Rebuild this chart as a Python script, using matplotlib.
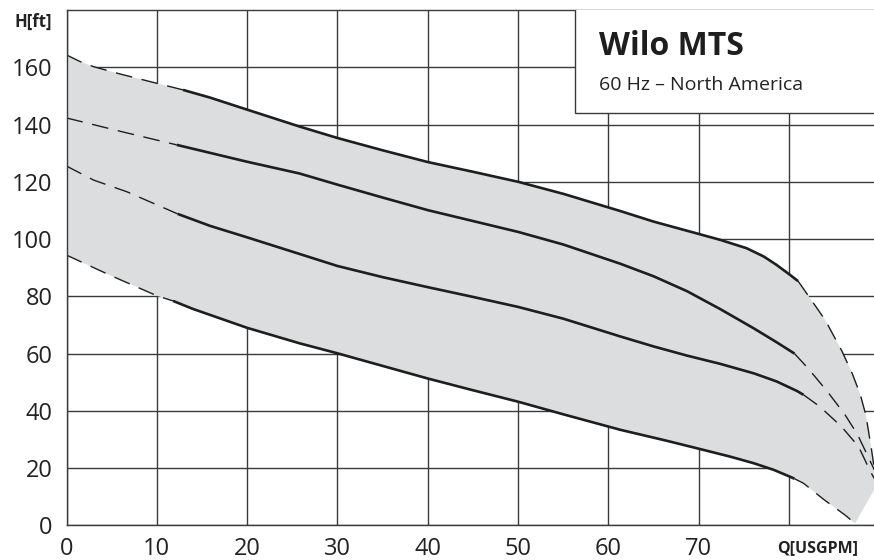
import matplotlib.pyplot as plt
from matplotlib.patches import Rectangle

plt.rcParams['font.family'] = ['Open Sans', 'DejaVu Sans']

# flow [USGPM] / head [ft]
# each curve: dashed start, solid middle, dashed end
top_start_x = [0, 1.5, 3, 6, 10, 12.9]
top_start_y = [164.3, 162.0, 160.2, 157.6, 154.4, 152.1]
top_mid_x = [12.9, 15.9, 20, 25.8, 30, 35, 40, 45, 50, 55, 61.3, 65, 70.1, 72.4,
             75.3, 77.2, 78.6, 80.1, 81.0]
top_mid_y = [152.1, 149.4, 145.2, 139.3, 135.3, 131.0, 126.9, 123.5, 120.0, 115.8,
             109.8, 106.1, 101.7, 99.7, 96.8, 93.9, 91.0, 87.5, 85.3]
top_end_x = [81.0, 82.2, 84.0, 85.8, 87.0, 87.9, 88.5, 89.1, 89.7]
top_end_y = [85.3, 79.9, 71.7, 61.2, 53.0, 45.5, 38.5, 27.0, 14.0]

up_start_x = [0, 6, 12.2]
up_start_y = [142.3, 137.6, 132.9]
up_mid_x = [12.2, 20, 25.8, 30, 35, 40, 45, 50, 55, 61.3, 65, 68.7, 72.4, 76.1,
            78.6, 80.6]
up_mid_y = [132.9, 127.0, 122.9, 119.0, 114.5, 110.1, 106.3, 102.5, 98.1, 91.4,
            87.0, 81.8, 75.5, 68.8, 64.0, 60.0]
up_end_x = [80.6, 82.2, 84.3, 86.2, 87.6, 89.0, 89.5]
up_end_y = [60.0, 54.5, 46.5, 38.6, 31.6, 22.3, 19.0]

lo_start_x = [0, 3.0, 6.7, 12.3]
lo_start_y = [125.5, 120.6, 116.5, 108.8]
lo_mid_x = [12.3, 15.9, 20, 25.8, 30, 35, 40, 45, 50, 55, 61.3, 65, 68.7, 72.4,
            76.1, 78.6, 80.9, 81.6]
lo_mid_y = [108.8, 104.6, 100.6, 94.8, 90.6, 86.7, 83.2, 79.8, 76.3, 72.2, 66.0,
            62.5, 59.3, 56.4, 53.1, 50.3, 46.9, 45.6]
lo_end_x = [81.6, 83.4, 85.8, 87.7, 89.0, 89.5]
lo_end_y = [45.6, 41.5, 34.5, 27.5, 18.8, 16.0]

bot_start_x = [0, 4.8, 10, 11.8]
bot_start_y = [94.4, 87.4, 80.2, 78.4]
bot_mid_x = [11.8, 14.0, 20, 25.8, 30, 35, 40, 45, 50, 55, 61.3, 66.4, 70.1, 73.5,
             76.1, 78.3, 80.1, 80.6]
bot_mid_y = [78.4, 75.6, 69.0, 63.6, 60.1, 55.7, 51.3, 47.2, 43.2, 38.8, 33.4, 29.6,
             26.7, 24.0, 21.7, 19.4, 17.0, 16.3]
bot_end_x = [80.6, 81.6, 83.9, 86.2, 87.3]
bot_end_y = [16.3, 14.7, 8.9, 3.6, 0.7]

x_ticks = [0, 10, 20, 30, 40, 50, 60, 70, 80]
x_labels = ['0', '10', '20', '30', '40', '50', '60', '70', '']
y_ticks = [0, 20, 40, 60, 80, 100, 120, 140, 160]

fig = plt.figure(figsize=(8.74, 5.6), dpi=100)
ax = fig.add_axes([66.5 / 874, 34.6 / 560, 1 - 66.5 / 874, 515.4 / 560])
ax.set_xlim(0, 89.4)
ax.set_ylim(0, 180)

line_c = '#1e1e1e'
grid_c = '#3a3a3a'

# grey band between the upper and lower curve
env_x = top_start_x + top_mid_x[1:] + top_end_x[1:]
env_y = top_start_y + top_mid_y[1:] + top_end_y[1:]
low_x = bot_start_x + bot_mid_x[1:] + bot_end_x[1:]
low_y = bot_start_y + bot_mid_y[1:] + bot_end_y[1:]
ax.fill(env_x + low_x[::-1], env_y + low_y[::-1], color='#dcdddf', lw=0, zorder=1)

curves = [
    (top_start_x, top_start_y, top_mid_x, top_mid_y, top_end_x, top_end_y),
    (up_start_x, up_start_y, up_mid_x, up_mid_y, up_end_x, up_end_y),
    (lo_start_x, lo_start_y, lo_mid_x, lo_mid_y, lo_end_x, lo_end_y),
    (bot_start_x, bot_start_y, bot_mid_x, bot_mid_y, bot_end_x, bot_end_y),
]
for sx, sy, mx, my, ex, ey in curves:
    ax.plot(sx, sy, color=line_c, lw=1.0, dashes=(12, 7), zorder=2)
    ax.plot(mx, my, color=line_c, lw=1.9, solid_capstyle='butt',
            solid_joinstyle='round', zorder=2)
    ax.plot(ex, ey, color=line_c, lw=1.0, dashes=(12, 7), zorder=2)

ax.set_xticks(x_ticks)
ax.set_xticklabels(x_labels)
ax.set_yticks(y_ticks)
ax.set_axisbelow(True)
ax.grid(True, color=grid_c, lw=1.0)
ax.tick_params(axis='both', length=0, labelsize=17, colors='#222222')
ax.tick_params(axis='x', pad=8)
ax.tick_params(axis='y', pad=10)

for s in ['left', 'bottom', 'top']:
    ax.spines[s].set_color(grid_c)
    ax.spines[s].set_linewidth(1.0)
ax.spines['right'].set_visible(False)

# title box in the top right corner
ax.add_patch(Rectangle((56.3, 144), 40, 40, facecolor='white', edgecolor=grid_c,
                       lw=1.0, zorder=3))
ax.text(58.9, 164.3, 'Wilo MTS', fontsize=23, fontweight='bold', color='#1e1e1e',
        va='baseline', zorder=4)
ax.text(58.9, 152.1, '60 Hz \u2013 North America', fontsize=14, color='#222222',
        va='baseline', zorder=4)

fig.text(52 / 874, 1 - 22 / 560, 'H[ft]', ha='right', va='center', fontsize=12,
         fontweight='bold', color='#222222')
fig.text(858 / 874, 1 - 548 / 560, 'Q[USGPM]', ha='right', va='center', fontsize=11.5,
         fontweight='bold', color='#222222')

plt.savefig('out.png', dpi=100)
